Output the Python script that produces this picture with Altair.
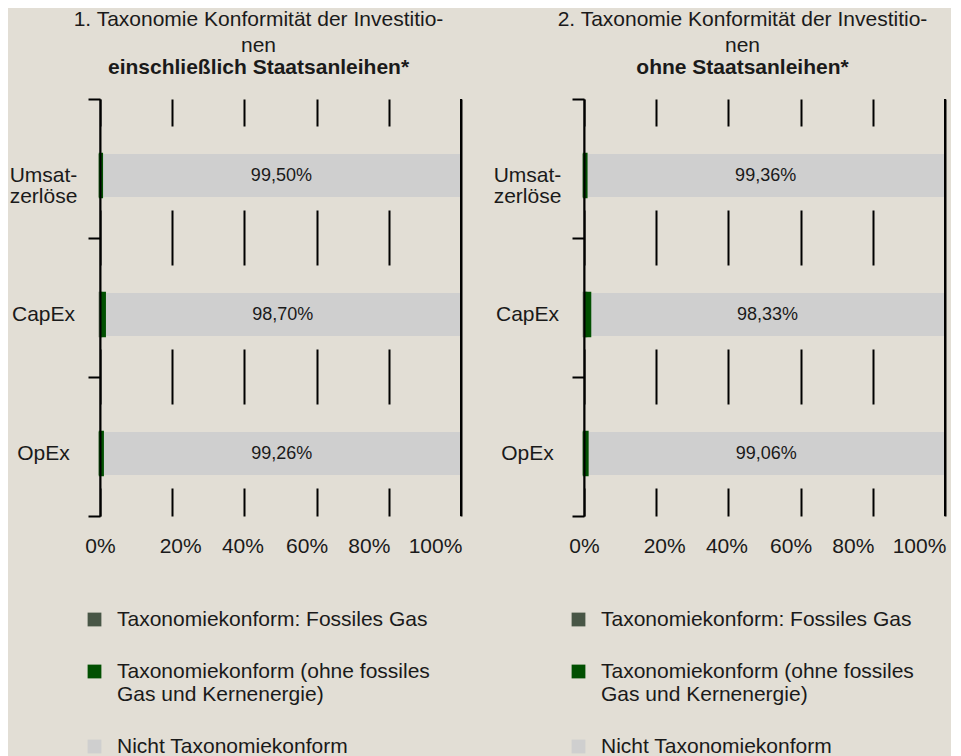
import altair as alt
import pandas as pd

categories = ["Umsatzerlöse", "CapEx", "OpEx"]
series = [
    "Taxonomiekonform: Fossiles Gas",
    "Taxonomiekonform (ohne fossiles Gas und Kernenergie)",
    "Nicht Taxonomiekonform",
]
colors = ["#485646", "#015001", "#cfcfcf"]

# Panel 1: including sovereign bonds
p1_gas = [0.0, 0.3, 0.0]
p1_green = [0.5, 1.0, 0.74]
p1_nicht = [99.50, 98.70, 99.26]

# Panel 2: without sovereign bonds
p2_gas = [0.0, 0.55, 0.0]
p2_green = [0.64, 1.12, 0.94]
p2_nicht = [99.36, 98.33, 99.06]

x_ticks = [0, 20, 40, 60, 80, 100]

titles = [
    (["1. Taxonomie Konformität der Investitio-", "nen"], "einschließlich Staatsanleihen*"),
    (["2. Taxonomie Konformität der Investitio-", "nen"], "ohne Staatsanleihen*"),
]

BG = "#e2ded5"
FONT = "Arial, 'Liberation Sans', Helvetica, sans-serif"
TXT = "#1a1a1a"


def panel(gas, green, nicht, title, subtitle):
    rows = []
    for i, c in enumerate(categories):
        for j, (s, v) in enumerate(zip(series, [gas[i], green[i], nicht[i]])):
            rows.append({"cat": c, "series": s, "value": v, "ord": j})
    df = pd.DataFrame(rows)
    dtext = pd.DataFrame({"cat": categories, "nicht": nicht})

    yenc = alt.Y(
        "cat:N",
        sort=categories,
        scale=alt.Scale(paddingInner=0, paddingOuter=0),
        axis=alt.Axis(
            title=None,
            grid=False,
            tickBand="extent",
            ticks=True,
            tickSize=12,
            tickWidth=2,
            tickColor="black",
            domainColor="black",
            domainWidth=2,
            labelAlign="center",
            labelBaseline="middle",
            labelPadding=45,
            labelFontSize=21,
            labelLineHeight=21,
            labelOffset=7,
            labelColor=TXT,
            labelFont=FONT,
            labelExpr="datum.label == 'Umsatzerlöse' ? ['Umsat-', 'zerlöse'] : datum.label",
            zindex=1,
        ),
    )
    xscale = alt.Scale(domain=[0, 100], nice=False, zero=True)
    xaxis = alt.Axis(
        title=None,
        values=x_ticks,
        grid=True,
        gridColor="black",
        gridWidth=2,
        gridOpacity=1,
        domain=False,
        ticks=False,
        labelPadding=19,
        labelFontSize=21,
        labelColor=TXT,
        labelFont=FONT,
        labelFlush=False,
        labelOverlap=False,
        labelExpr="datum.value + '%'",
        labelOffset={"expr": "datum.value == 20 ? 8 : datum.value == 40 ? -2 : datum.value == 60 ? -10 : datum.value == 80 ? -20 : datum.value == 100 ? -26 : 0"},
        zindex=0,
    )

    color = alt.Color(
        "series:N",
        scale=alt.Scale(domain=series, range=colors),
        legend=alt.Legend(
            title=None,
            orient="none",
            legendX=-16,
            legendY=510,
            direction="vertical",
            symbolType="square",
            symbolSize=190,
            symbolStrokeWidth=0,
            labelFontSize=21,
            labelFont=FONT,
            labelColor=TXT,
            labelOffset=12,
            labelLimit=600,
            rowPadding=30,
            labelExpr="datum.label == 'Taxonomiekonform (ohne fossiles Gas und Kernenergie)' ? ['Taxonomiekonform (ohne fossiles', 'Gas und Kernenergie)'] : datum.label",
        ),
    )

    mask = alt.Chart(dtext).mark_bar(color=BG, height=84).encode(
        x=alt.datum(0, scale=xscale, axis=xaxis),
        x2=alt.datum(100),
        y=yenc,
    )
    bars = alt.Chart(df).mark_bar(height=43, yOffset=7).encode(
        x=alt.X("value:Q", stack="zero", scale=xscale, axis=xaxis),
        y=yenc,
        color=color,
        order=alt.Order("ord:Q"),
    )
    colored = alt.Chart(df).transform_filter("datum.ord < 2").mark_bar(
        height=43, yOffset=7, strokeWidth=2.5
    ).encode(
        x=alt.X("value:Q", stack="zero", scale=xscale, axis=xaxis),
        y=yenc,
        color=color,
        stroke=alt.Stroke("series:N", scale=alt.Scale(domain=series, range=colors), legend=None),
        order=alt.Order("ord:Q"),
    )
    text = alt.Chart(dtext).transform_calculate(
        mid="100 - datum.nicht / 2",
        lab="replace(format(datum.nicht, '.2f'), '.', ',') + '%'",
    ).mark_text(fontSize=18, font=FONT, color=TXT, baseline="middle", yOffset=7).encode(
        x=alt.X("mid:Q", scale=xscale, axis=xaxis),
        y=yenc,
        text="lab:N",
    )
    rule100 = alt.Chart(dtext).mark_rule(color="black", strokeWidth=2).encode(
        x=alt.datum(100, scale=xscale)
    )

    return alt.layer(mask, bars, colored, text, rule100).resolve_scale(
        stroke="independent"
    ).properties(
        width=361,
        height=417,
        title=alt.TitleParams(
            text=title,
            subtitle=subtitle,
            fontSize=21,
            fontWeight="normal",
            font=FONT,
            color=TXT,
            subtitleFontSize=21,
            subtitleFontWeight="bold",
            subtitleFont=FONT,
            subtitleColor=TXT,
            lineHeight=26,
            subtitleLineHeight=26,
            subtitlePadding=1,
            offset=10,
            anchor="middle",
            dx=-22,
        ),
    )


left = panel(p1_gas, p1_green, p1_nicht, *titles[0])
right = panel(p2_gas, p2_green, p2_nicht, *titles[1])

chart = alt.hconcat(left, right, spacing=31).resolve_scale(
    color="independent", x="independent", y="independent"
).resolve_legend(color="independent").properties(
    background=BG,
    padding={"left": 1, "top": 1, "right": 5, "bottom": 2},
).configure_view(stroke=None)

chart.save("out.html", embed_options={"renderer": "svg", "actions": False})
